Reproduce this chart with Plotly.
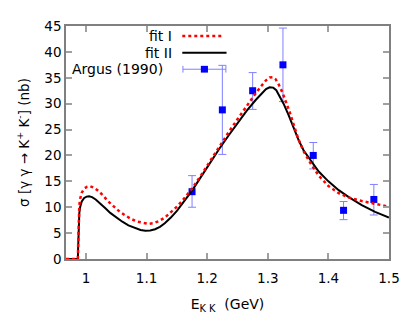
import plotly.graph_objects as go

# fit I (red dotted)
fit1_x = [0.967, 0.9866, 0.987, 0.9875, 0.988, 0.989, 0.9905, 0.993, 0.997, 1.002, 1.007, 1.013,
          1.02, 1.028, 1.036, 1.045, 1.055, 1.065, 1.075, 1.085, 1.095, 1.103, 1.111, 1.12, 1.13,
          1.14, 1.15, 1.16, 1.175, 1.19, 1.205, 1.22, 1.235, 1.25, 1.265, 1.28, 1.29, 1.297, 1.303,
          1.308, 1.313, 1.318, 1.324, 1.33, 1.336, 1.342, 1.35, 1.359, 1.372, 1.384, 1.40, 1.417,
          1.433, 1.455, 1.477, 1.5]
fit1_y = [0, 0, 2.5, 6.5, 8.6, 10.4, 11.7, 12.8, 13.6, 13.95, 14.05, 13.8,
          13.2, 12.3, 11.2, 10.2, 9.2, 8.4, 7.7, 7.2, 6.9, 6.8, 6.9, 7.3, 8.0,
          9.0, 10.1, 11.4, 13.6, 16.2, 19.0, 21.7, 24.4, 27.0, 29.6, 32.0, 33.5, 34.5, 35.05,
          35.1, 34.7, 33.7, 32.2, 30.4, 28.4, 26.2, 23.3, 20.8, 18.2, 16.1, 14.1, 12.7,
          11.9, 11.2, 10.6, 10.1]

# fit II (black solid)
fit2_x = [0.967, 0.9866, 0.987, 0.9875, 0.988, 0.989, 0.9905, 0.993, 0.997, 1.001, 1.005, 1.01,
          1.016, 1.024, 1.032, 1.04, 1.05, 1.06, 1.07, 1.08, 1.09, 1.098, 1.106, 1.114, 1.122,
          1.13, 1.14, 1.15, 1.16, 1.175, 1.19, 1.205, 1.22, 1.235, 1.25, 1.265, 1.28, 1.29, 1.297,
          1.303, 1.309, 1.314, 1.32, 1.326, 1.334, 1.342, 1.351, 1.359, 1.372, 1.384, 1.40, 1.417,
          1.433, 1.455, 1.477, 1.5]
fit2_y = [0, 0, 2.0, 5.5, 7.3, 8.9, 10.1, 11.1, 11.8, 12.05, 12.1, 11.95,
          11.5, 10.7, 9.8, 8.9, 8.0, 7.2, 6.5, 6.0, 5.6, 5.45, 5.5, 5.75, 6.2,
          6.9, 8.0, 9.3, 10.8, 13.2, 15.9, 18.7, 21.3, 23.8, 26.3, 28.6, 30.7, 32.0, 32.8,
          33.15, 33.1, 32.6, 31.4, 30.0, 27.9, 25.4, 22.9, 21.0, 18.9, 16.9, 15.0, 13.3,
          12.0, 10.4, 9.1, 8.0]

# Argus (1990)
argus_x = [1.175, 1.225, 1.275, 1.325, 1.375, 1.425, 1.475]
argus_y = [13.0, 28.8, 32.5, 37.5, 20.0, 9.4, 11.5]
argus_hi = [16.1, 37.4, 36.0, 44.6, 22.5, 11.1, 14.4]
argus_lo = [10.0, 20.2, 28.9, 30.4, 17.4, 7.6, 8.5]

err_plus = [h - y for h, y in zip(argus_hi, argus_y)]
err_minus = [y - l for l, y in zip(argus_lo, argus_y)]

font = "DejaVu Sans"
blue = "#0000ff"
errc = "#8080ff"

fig = go.Figure()
fig.add_trace(go.Scatter(x=argus_x, y=argus_y, mode="markers", name="Argus (1990)",
                         marker=dict(symbol="square", size=7, color=blue),
                         error_y=dict(type="data", symmetric=False, array=err_plus,
                                      arrayminus=err_minus, color=errc, thickness=1, width=4)))
fig.add_trace(go.Scatter(x=fit2_x, y=fit2_y, mode="lines", name="fit II",
                         line=dict(color="black", width=2)))
fig.add_trace(go.Scatter(x=fit1_x, y=fit1_y, mode="lines", name="fit I",
                         line=dict(color="red", width=2.5, dash="dot")))

# hand-made key, gnuplot style: text on the left, sample on the right
key_rows = [("fit I", 0.957, 0.335), ("fit II", 0.885, 0.335), ("Argus (1990)", 0.8145, 0.305)]
for txt, yy, xx in key_rows:
    fig.add_annotation(x=xx, y=yy, xref="paper", yref="paper", text=txt, showarrow=False,
                       xanchor="right", yanchor="middle", font=dict(family=font, size=14, color="black"))

fig.add_shape(type="line", xref="paper", yref="paper", x0=0.36, x1=0.487, y0=0.957, y1=0.957,
              line=dict(color="red", width=2.5, dash="dot"))
fig.add_shape(type="line", xref="paper", yref="paper", x0=0.36, x1=0.497, y0=0.885, y1=0.885,
              line=dict(color="black", width=2))
fig.add_shape(type="line", xref="paper", yref="paper", x0=0.362, x1=0.495, y0=0.8145, y1=0.8145,
              line=dict(color=errc, width=1))
for cx in (0.362, 0.495):
    fig.add_shape(type="line", xref="paper", yref="paper", x0=cx, x1=cx, y0=0.8, y1=0.829,
                  line=dict(color=errc, width=1))
fig.add_shape(type="rect", xref="paper", yref="paper", x0=0.4175, x1=0.4395, y0=0.8, y1=0.829,
              line=dict(width=0), fillcolor=blue)

axis_common = dict(showline=True, linecolor="#808080", linewidth=1.5, mirror="allticks",
                   ticks="inside", ticklen=6, tickcolor="#a0a0a0", tickwidth=1.5,
                   showgrid=False, zeroline=False,
                   tickfont=dict(family=font, size=13.5, color="black"))

# page body has an 8px margin, so the figure is shrunk and the margins shifted to compensate
fig.update_layout(
    width=407, height=324,
    margin=dict(l=58, r=26, t=10, b=73),
    paper_bgcolor="white", plot_bgcolor="white",
    showlegend=False,
    xaxis=dict(range=[0.967, 1.5], tick0=1.0, dtick=0.1, ticklabelstandoff=6,
               title=dict(text="E<sub>K K</sub>  (GeV)", font=dict(family=font, size=14, color="black"),
                          standoff=14),
               **axis_common),
    yaxis=dict(range=[0, 45], tick0=0, dtick=5,
               title=dict(text="σ [γ γ → K<sup>+</sup> K<sup>-</sup>] (nb)",
                          font=dict(family=font, size=13.5, color="black"), standoff=12),
               **axis_common),
)

fig.write_html("out.html")
